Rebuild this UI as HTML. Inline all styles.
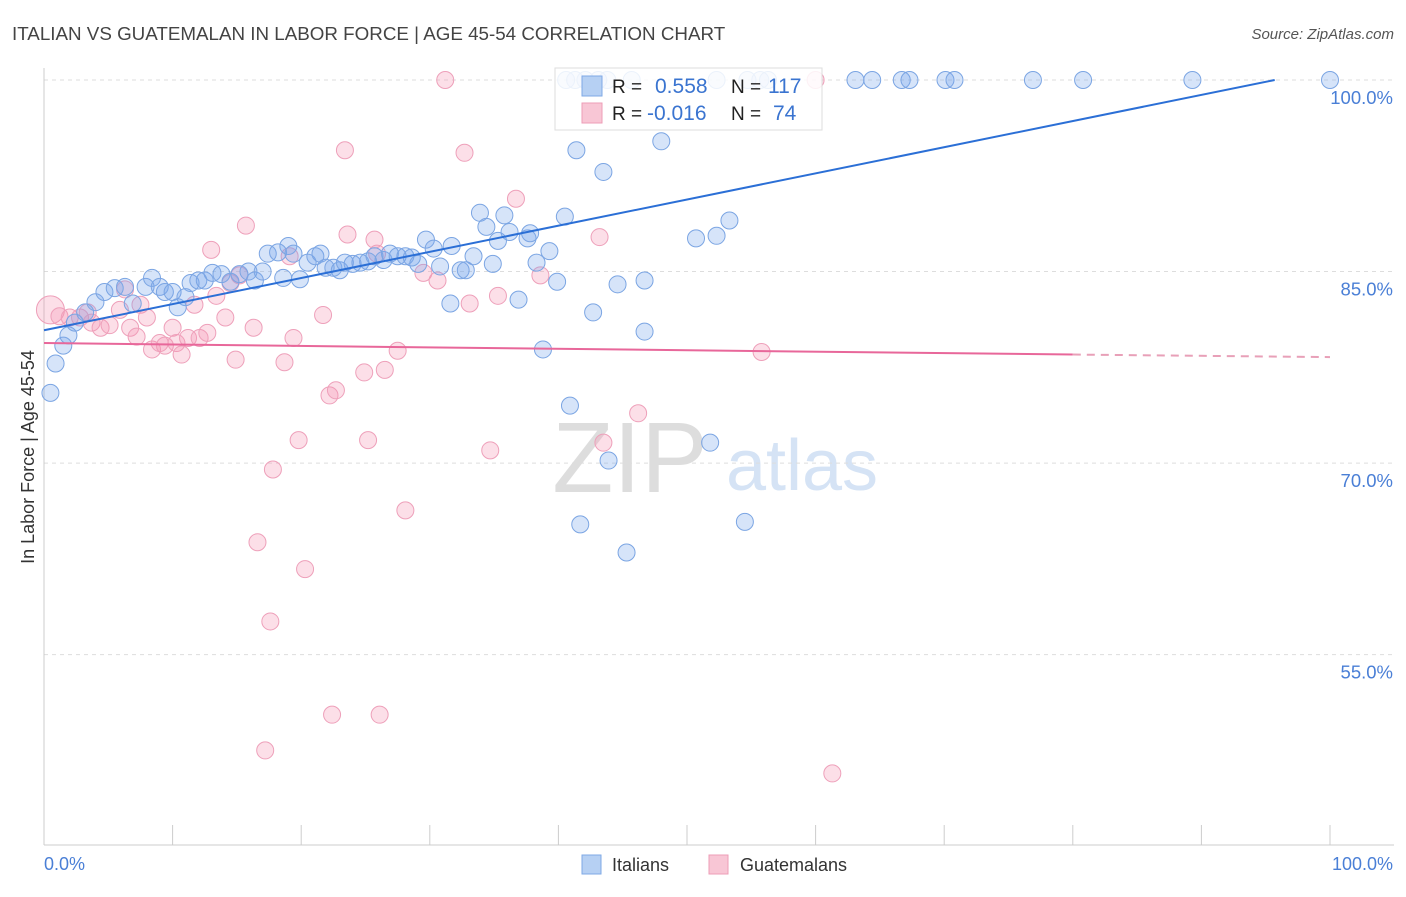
<!DOCTYPE html>
<html><head><meta charset="utf-8"><style>
body{margin:0;background:#fff;font-family:"Liberation Sans",sans-serif;}
svg text{font-family:"Liberation Sans",sans-serif;}
</style></head><body>
<svg id="chart" width="1406" height="892">
<text x="12" y="40" font-size="18.8" fill="#444">ITALIAN VS GUATEMALAN IN LABOR FORCE | AGE 45-54 CORRELATION CHART</text>
<text x="1394" y="39" font-size="15" fill="#555" font-style="italic" text-anchor="end">Source: ZipAtlas.com</text>
<text x="630" y="492" font-size="100" fill="#ddd" font-family="Liberation Serif" text-anchor="middle">ZIP</text>
<text x="802" y="490" font-size="72" fill="#d5e3f5" text-anchor="middle">atlas</text>
<g id="grid"></g>
<g id="axes"></g>
<g id="pts"></g>
<g id="trend"></g>
<text transform="translate(34,457) rotate(-90)" font-size="18" fill="#333" text-anchor="middle">In Labor Force | Age 45-54</text>
<text x="44" y="870" font-size="18" fill="#4a7fd6">0.0%</text>
<text x="1393" y="870" font-size="18" fill="#4a7fd6" text-anchor="end">100.0%</text>
<g>
<rect x="555" y="68" width="267" height="62" fill="#fff" fill-opacity="0.85" stroke="#ddd"/>
<rect x="582" y="76" width="20" height="20" fill="#b6d0f3" stroke="#7fa9e6"/>
<rect x="582" y="103" width="20" height="20" fill="#f8c6d5" stroke="#ee9db7"/>
<text x="612" y="93" font-size="19" fill="#222">R = </text><text x="655" y="93" font-size="21" fill="#3a74d0">0.558</text>
<text x="731" y="93" font-size="19" fill="#222">N = </text><text x="768" y="93" font-size="21" fill="#3a74d0">117</text>
<text x="612" y="120" font-size="19" fill="#222">R = </text><text x="647" y="120" font-size="21" fill="#3a74d0">-0.016</text>
<text x="731" y="120" font-size="19" fill="#222">N = </text><text x="773" y="120" font-size="21" fill="#3a74d0">74</text>
</g>
<g>
<rect x="582" y="855" width="19" height="19" fill="#b6d0f3" stroke="#7fa9e6"/>
<text x="612" y="871" font-size="18" fill="#333">Italians</text>
<rect x="709" y="855" width="19" height="19" fill="#f8c6d5" stroke="#ee9db7"/>
<text x="740" y="871" font-size="18" fill="#333">Guatemalans</text>
</g>
</svg>
<script>
const yTicks=[100,85,70,55];
const yTickLabels=["100.0%","85.0%","70.0%","55.0%"];
const italians=[[0.5,75.5],[0.9,77.8],[1.5,79.2],[1.9,80.0],[2.4,81.0],[3.2,81.8],[4.0,82.6],[4.7,83.4],[5.5,83.7],[6.3,83.8],[6.9,82.5],[7.9,83.8],[8.4,84.5],[9.0,83.8],[9.4,83.4],[10.0,83.4],[10.4,82.2],[11.0,83.0],[11.4,84.1],[12.0,84.3],[12.5,84.3],[13.1,84.9],[13.8,84.8],[14.5,84.2],[15.2,84.8],[15.9,85.0],[16.4,84.3],[17.0,85.0],[17.4,86.4],[18.2,86.5],[18.6,84.5],[19.0,87.0],[19.4,86.4],[19.9,84.4],[20.5,85.7],[21.1,86.2],[21.5,86.4],[21.9,85.3],[22.5,85.3],[23.0,85.1],[23.4,85.7],[24.0,85.6],[24.6,85.7],[25.2,85.8],[25.7,86.2],[26.4,85.9],[26.9,86.4],[27.5,86.2],[28.1,86.2],[28.6,86.1],[29.1,85.6],[29.7,87.5],[30.3,86.8],[30.8,85.4],[31.7,87.0],[31.6,82.5],[32.4,85.1],[32.8,85.1],[33.4,86.2],[33.9,89.6],[34.4,88.5],[34.9,85.6],[35.3,87.4],[35.8,89.4],[36.2,88.1],[36.9,82.8],[37.6,87.6],[37.8,88.0],[38.3,85.7],[38.8,78.9],[39.3,86.6],[39.9,84.2],[40.5,89.3],[40.9,74.5],[41.4,94.5],[41.7,65.2],[42.7,81.8],[43.5,92.8],[43.9,70.2],[44.6,84.0],[45.3,63.0],[46.7,80.3],[46.7,84.3],[48.0,95.2],[50.7,87.6],[51.8,71.6],[52.3,87.8],[53.3,89.0],[54.5,65.4],[40.6,100],[41.3,100],[42.1,100],[43.1,100],[43.8,100],[45.7,100],[52.3,100],[54.7,100],[55.7,100],[56.3,100],[63.1,100],[64.4,100],[66.7,100],[67.3,100],[70.1,100],[70.8,100],[76.9,100],[80.8,100],[89.3,100],[100,100]];
const guatemalans=[[0.5,82.0],[1.2,81.5],[2.0,81.4],[2.8,81.4],[3.4,81.8],[3.7,81.0],[4.4,80.6],[5.1,80.8],[5.9,82.0],[6.3,83.6],[6.7,80.6],[7.2,79.9],[7.5,82.4],[8.0,81.4],[8.4,78.9],[9.0,79.4],[9.4,79.2],[10.0,80.6],[10.3,79.4],[10.7,78.5],[11.2,79.8],[11.7,82.4],[12.1,79.8],[12.7,80.2],[13.0,86.7],[13.4,83.1],[14.1,81.4],[14.5,84.1],[14.9,78.1],[15.2,84.7],[15.7,88.6],[16.3,80.6],[16.6,63.8],[17.2,47.5],[17.6,57.6],[17.8,69.5],[18.7,77.9],[19.1,86.2],[19.4,79.8],[19.8,71.8],[20.3,61.7],[21.7,81.6],[22.2,75.3],[22.7,75.7],[22.4,50.3],[23.4,94.5],[23.6,87.9],[24.9,77.1],[25.2,71.8],[25.7,87.5],[25.9,86.4],[26.1,50.3],[26.5,77.3],[27.5,78.8],[28.1,66.3],[29.5,84.9],[30.6,84.3],[31.2,100],[32.7,94.3],[33.1,82.5],[34.7,71.0],[35.3,83.1],[36.7,90.7],[38.6,84.7],[43.2,87.7],[43.5,71.6],[46.2,73.9],[55.8,78.7],[60.0,100],[61.3,45.7]];
const blueTrend=[[0,80.4],[95.7,100]];
const pinkTrendSolid=[[0,79.4],[80,78.5]];
const pinkTrendDash=[[80,78.5],[100,78.3]];
const X=v=>44+v*12.86, Y=v=>80+(100-v)*12.77;
const NS="http://www.w3.org/2000/svg";
function mk(tag,attrs,parent){const e=document.createElementNS(NS,tag);for(const k in attrs)e.setAttribute(k,attrs[k]);document.getElementById(parent).appendChild(e);return e;}
yTicks.forEach((t,i)=>{
 const l=mk('line',{x1:44,x2:1394,y1:Y(t),y2:Y(t),stroke:'#ddd','stroke-dasharray':'4,4'},'grid');
 
 
 const tx=mk('text',{x:1393,y:Y(t)+24,'font-size':18.5,fill:'#4a7fd6','text-anchor':'end'},'grid');
 tx.textContent=yTickLabels[i];
 
 
});
const ya=mk('line',{x1:44,x2:44,y1:68,y2:845,stroke:'#ccc'},'axes');


const xa=mk('line',{x1:44,x2:1394,y1:845,y2:845,stroke:'#ccc'},'axes');


for(let i=0;i<=10;i++){const tk=mk('line',{x1:X(i*10),x2:X(i*10),y1:825,y2:845,stroke:'#ccc'},'axes');
 
 }
guatemalans.forEach(p=>{const c=mk('circle',{cx:X(p[0]),cy:Y(p[1]),r:p[0]<1?14:8.5,fill:'rgba(244,150,180,0.3)',stroke:'#eea0ba','stroke-width':1},'pts');
 
 });
italians.forEach(p=>{const c=mk('circle',{cx:X(p[0]),cy:Y(p[1]),r:8.5,fill:'rgba(120,165,235,0.3)',stroke:'#7ba5e3','stroke-width':1},'pts');
 
 });
function tl(d,col,dash,name){const l=mk('line',{x1:X(d[0][0]),y1:Y(d[0][1]),x2:X(d[1][0]),y2:Y(d[1][1]),stroke:col,'stroke-width':2,'stroke-dasharray':dash},'trend');
 
 }
tl(blueTrend,'#2b6fd6','none','italians-trend-line');
tl(pinkTrendSolid,'#e8679a','none','guatemalans-trend-line');
tl(pinkTrendDash,'#e8a0b8','8,6','guatemalans-trend-extension');
</script>
</body></html>
